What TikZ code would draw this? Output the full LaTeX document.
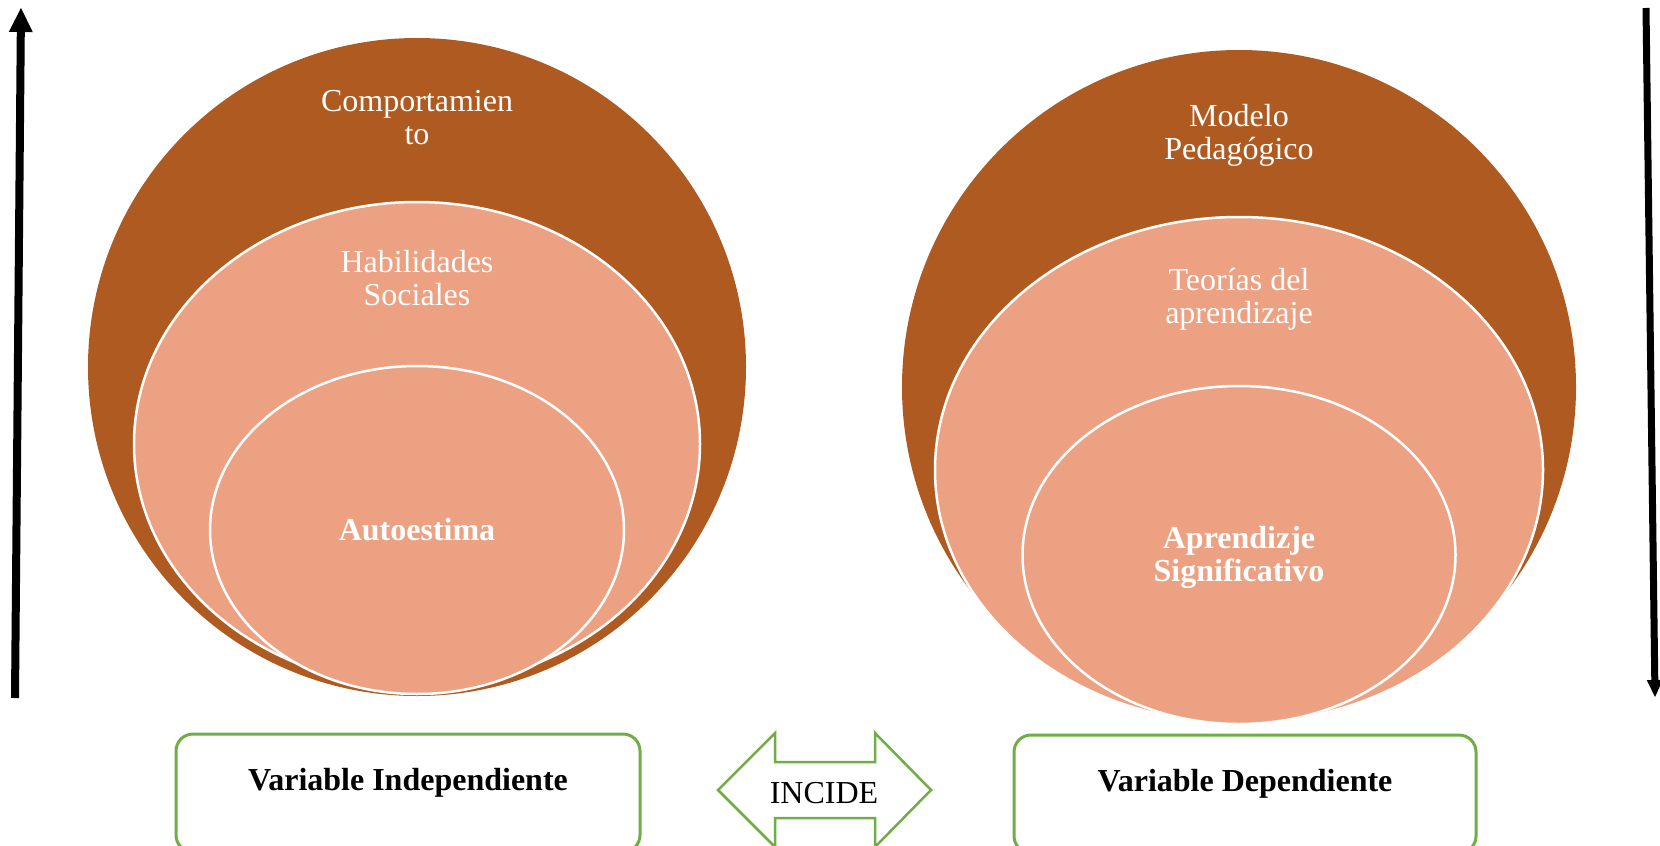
\documentclass[tikz,border=0pt]{standalone}
\usepackage{fontspec}
\setmainfont{Liberation Serif}
\usetikzlibrary{arrows.meta,shapes.geometric}
\definecolor{brownc}{HTML}{AE5A21}
\definecolor{pinkc}{HTML}{ECA183}
\definecolor{greenc}{HTML}{70AD47}
\begin{document}
\begin{tikzpicture}[x=1pt,y=-1pt,
  bigcircle/.style={circle,fill=brownc,draw=none,inner sep=0pt},
  pinkell/.style={ellipse,fill=pinkc,draw=white,line width=2.5pt,inner sep=0pt},
  lbl/.style={text=white,font=\fontsize{32}{33}\selectfont,align=center,inner sep=0pt},
  varbox/.style={draw=greenc,line width=3pt,rounded corners=17pt,fill=white,inner sep=0pt,
     font=\fontsize{32}{33}\selectfont\bfseries,text height=56pt,text depth=62pt,anchor=base},
  sidearrow/.style={line width=8pt,draw=black}
]
\clip (0,0) rectangle (1660,846);
\fill[white] (0,0) rectangle (1660,846);

% left group
\node[bigcircle,minimum size=658pt] (lbig) at (417,367) {};
\node[pinkell,minimum width=566pt,minimum height=484pt] (lmid) at (417,444) {};
\node[pinkell,minimum width=414pt,minimum height=328pt] (lin) at (417,530) {};
\node[lbl] (t1) at (417,118) {Comportamien\\to};
\node[lbl] (t2) at (417,278) {Habilidades\\Sociales};
\node[lbl,font=\fontsize{32}{33}\selectfont\bfseries] (t3) at (417,530) {Autoestima};

% right group
\node[bigcircle,minimum size=674pt] (rbig) at (1239,387) {};
\node[pinkell,minimum width=608pt,minimum height=506pt] (rmid) at (1239,470) {};
\node[pinkell,minimum width=433pt,minimum height=338pt] (rin) at (1239,555) {};
\node[lbl] (t4) at (1239,135) {Modelo\\Pedagógico};
\node[lbl] (t5) at (1239,299) {Teorías del\\aprendizaje};
\node[lbl,font=\fontsize{32}{33}\selectfont\bfseries] (t6) at (1239,557) {Aprendizje\\Significativo};

% side arrows
\coordinate (la0) at (15,698);
\coordinate (la1) at (21,8);
\draw[sidearrow,-{Triangle[length=24pt,width=24pt,line width=0pt]}] (la0) -- (la1);
\coordinate (ra0) at (1646,8);
\coordinate (ra1) at (1655,697);
\draw[sidearrow,line width=7pt,-{Triangle[length=17pt,width=16pt,line width=0pt]}] (ra0) -- (ra1);

% bottom boxes
\node[varbox,minimum width=464pt] (vi) at (408,790) {Variable Independiente};
\node[varbox,minimum width=462pt] (vd) at (1245,791) {Variable Dependiente};

% INCIDE double arrow
\draw[draw=greenc,line width=2.5pt,fill=white,line join=miter]
  (718,790) -- (775,733) -- (775,762) -- (875,762) -- (875,733) -- (931,790)
  -- (875,847) -- (875,818) -- (775,818) -- (775,847) -- cycle;
\node[font=\fontsize{32}{33}\selectfont,anchor=base,inner sep=0pt] (inc) at (824,803) {INCIDE};
\end{tikzpicture}
\end{document}
